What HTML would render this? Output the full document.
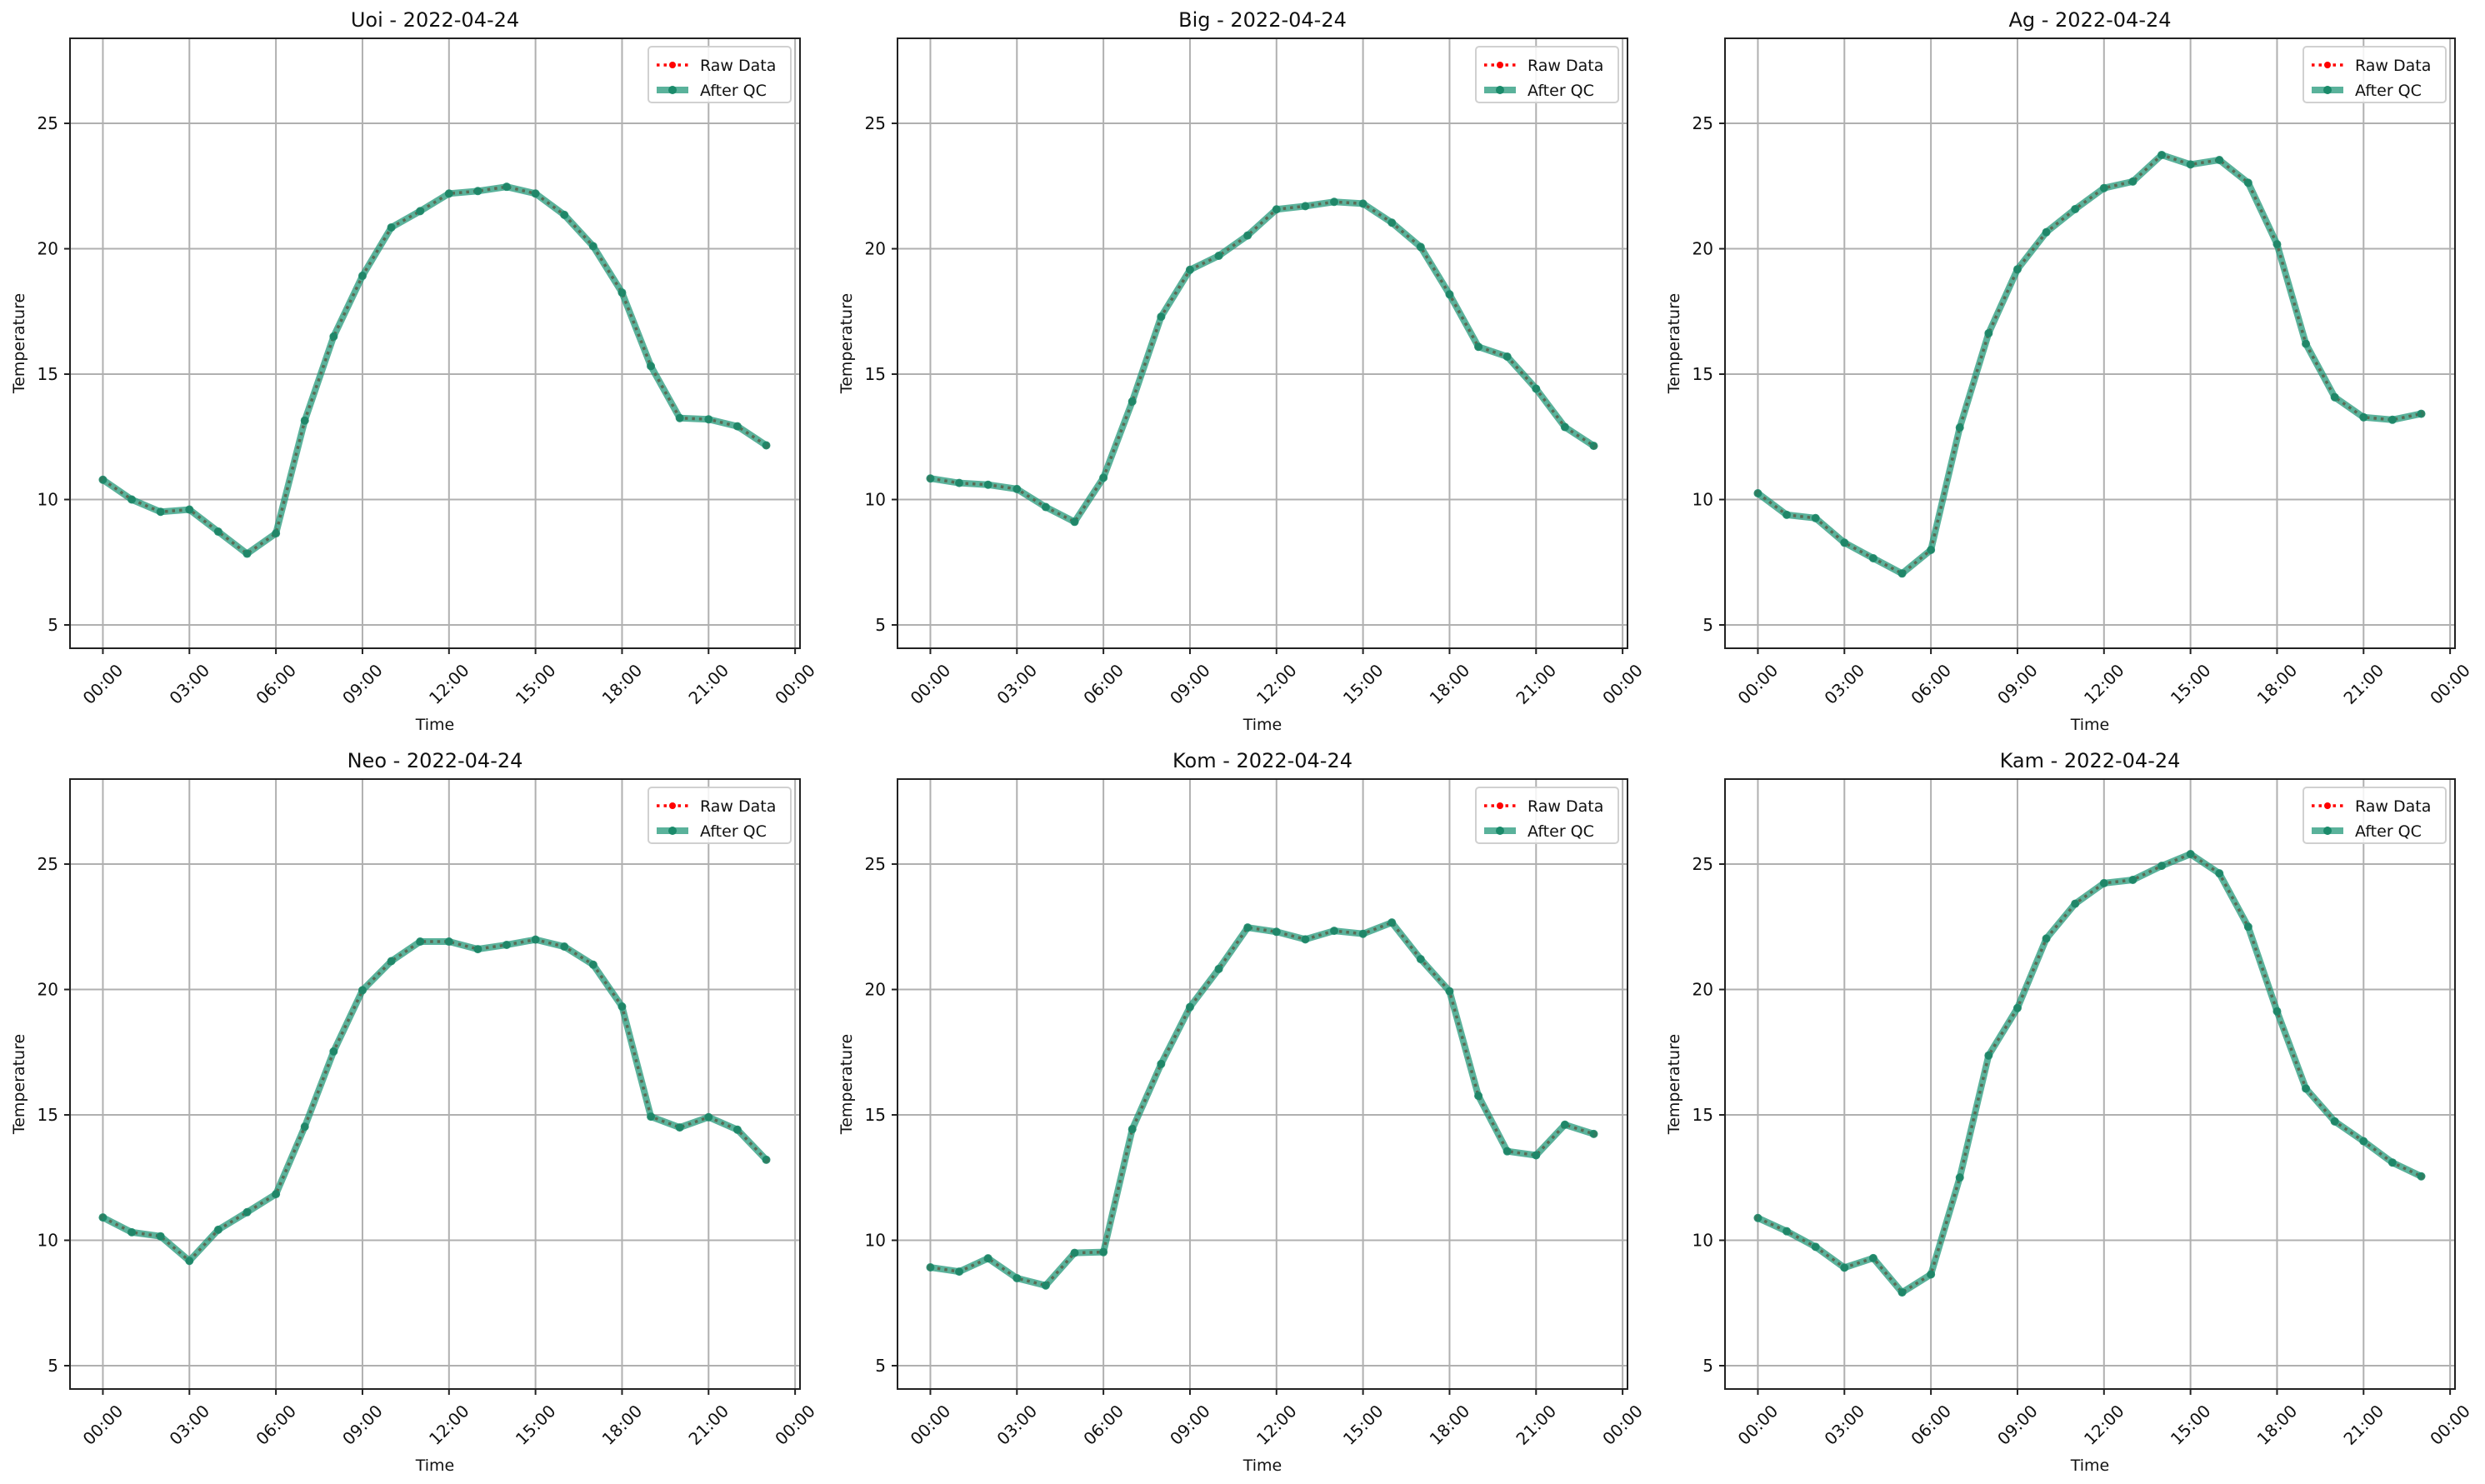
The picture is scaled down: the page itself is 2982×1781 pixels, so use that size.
<!DOCTYPE html>
<html><head><meta charset="utf-8"><style>
html,body{margin:0;padding:0;background:#fff;}
svg{display:block;font-family:"DejaVu Sans","Liberation Sans",sans-serif;}
</style></head><body>
<svg id="fig" width="2982" height="1781" viewBox="0 0 2982 1781" xmlns="http://www.w3.org/2000/svg"></svg>
<script>
const stations = ["Uoi","Big","Ag","Neo","Kom","Kam"];
const dateLabel = "2022-04-24";
const hours = [0,1,2,3,4,5,6,7,8,9,10,11,12,13,14,15,16,17,18,19,20,21,22,23];
const xTickHours = [0,3,6,9,12,15,18,21,24];
const xTickLabels = ["00:00","03:00","06:00","09:00","12:00","15:00","18:00","21:00","00:00"];
const yTicks = [5,10,15,20,25];
const tempUoi = [10.79,10.0,9.51,9.6,8.72,7.84,8.65,13.15,16.5,18.92,20.85,21.5,22.2,22.3,22.47,22.2,21.35,20.1,18.25,15.32,13.25,13.2,12.92,12.16];
const tempBig = [10.84,10.66,10.59,10.42,9.70,9.11,10.87,13.91,17.29,19.16,19.72,20.53,21.57,21.70,21.87,21.80,21.04,20.07,18.18,16.09,15.70,14.42,12.89,12.14];
const tempAg = [10.25,9.39,9.26,8.28,7.66,7.05,7.99,12.87,16.63,19.18,20.66,21.58,22.42,22.68,23.74,23.36,23.54,22.63,20.18,16.21,14.08,13.28,13.18,13.42];
const tempNeo = [10.91,10.32,10.16,9.18,10.42,11.12,11.84,14.53,17.53,19.97,21.13,21.91,21.91,21.61,21.78,21.99,21.71,20.99,19.32,14.93,14.50,14.91,14.41,13.21];
const tempKom = [8.92,8.75,9.28,8.49,8.20,9.50,9.53,14.43,17.03,19.30,20.82,22.47,22.30,22.0,22.34,22.22,22.67,21.21,19.93,15.76,13.55,13.39,14.61,14.24];
const tempKam = [10.89,10.36,9.74,8.91,9.29,7.92,8.64,12.50,17.37,19.26,22.03,23.42,24.24,24.37,24.93,25.4,24.63,22.5,19.13,16.05,14.74,13.95,13.1,12.55];
const series = [tempUoi,tempBig,tempAg,tempNeo,tempKom,tempKam];

const NS = "http://www.w3.org/2000/svg";
const fig = document.getElementById('fig');
function mk(tag, attrs, parent){const e=document.createElementNS(NS,tag);for(const k in attrs)e.setAttribute(k,attrs[k]);parent.appendChild(e);return e;}

const colX=[84,1077,2070], rowY=[46,935], PW=876, PH=732;
const xMin=-1.14, xMax=24.17, yMin=4.07, yMax=28.39;

series.forEach((vals,i)=>{
  const L=colX[i%3], T=rowY[Math.floor(i/3)];
  const sx=h=>L+(h-xMin)/(xMax-xMin)*PW;
  const sy=v=>T+PH-(v-yMin)/(yMax-yMin)*PH;
  const g=mk('g',{},fig);
  
  
  xTickHours.forEach((h,j)=>{
    const gl=mk('line',{x1:sx(h),x2:sx(h),y1:T,y2:T+PH,stroke:'#b0b0b0','stroke-width':2},g);
    
    
    mk('line',{x1:sx(h),x2:sx(h),y1:T+PH,y2:T+PH+7,stroke:'#222','stroke-width':2},g);
    const cx=sx(h), cy=T+PH+43;
    const t=mk('text',{x:cx,y:cy,'text-anchor':'middle','dominant-baseline':'central','font-size':20,fill:'#111',transform:`rotate(-45 ${cx} ${cy})`},g);
    t.textContent=xTickLabels[j];
    
    
  });
  yTicks.forEach(v=>{
    const gl=mk('line',{x1:L,x2:L+PW,y1:sy(v),y2:sy(v),stroke:'#b0b0b0','stroke-width':2},g);
    
    
    mk('line',{x1:L-7,x2:L,y1:sy(v),y2:sy(v),stroke:'#222','stroke-width':2},g);
    const t=mk('text',{x:L-14,y:sy(v)+7,'text-anchor':'end','font-size':20,fill:'#111'},g);
    t.textContent=v;
    
    
  });
  const pts=hours.map((h,k)=>sx(h)+','+sy(vals[k])).join(' ');
  const raw=mk('polyline',{points:pts,fill:'none',stroke:'#ff0000','stroke-width':3.5,'stroke-dasharray':'3.5 5'},g);
  
  
  hours.forEach((h,k)=>{
    const c=mk('circle',{cx:sx(h),cy:sy(vals[k]),r:4,fill:'#ff0000'},g);
    
    
  });
  const qc=mk('polyline',{points:pts,fill:'none',stroke:'#1a9474','stroke-opacity':0.72,'stroke-width':8,'stroke-linejoin':'round'},g);
  
  
  hours.forEach((h,k)=>{
    const c=mk('circle',{cx:sx(h),cy:sy(vals[k]),r:5,fill:'#1a8a6a','fill-opacity':0.9},g);
    
    
  });
  const fr=mk('rect',{x:L,y:T,width:PW,height:PH,fill:'none',stroke:'#222','stroke-width':2},g);
  
  
  const ti=mk('text',{x:L+PW/2,y:T-14,'text-anchor':'middle','font-size':24,fill:'#111'},g);
  ti.textContent=stations[i]+' - '+dateLabel;
  
  
  const xl=mk('text',{x:L+PW/2,y:T+PH+98,'text-anchor':'middle','font-size':19,fill:'#111'},g);
  xl.textContent='Time';
  
  
  const ycx=L-55, ycy=T+PH/2;
  const yl=mk('text',{x:ycx,y:ycy,'text-anchor':'middle','font-size':19,fill:'#111',transform:`rotate(-90 ${ycx} ${ycy})`},g);
  yl.textContent='Temperature';
  
  
  const lg=mk('g',{},g);
  
  
  const lx=L+PW-182, ly=T+10;
  mk('rect',{x:lx,y:ly,width:171,height:67,rx:4,fill:'#fff','fill-opacity':0.85,stroke:'#d0d0d0','stroke-width':2},lg);
  mk('line',{x1:lx+10,x2:lx+48,y1:ly+22,y2:ly+22,stroke:'#ff0000','stroke-width':3.5,'stroke-dasharray':'3.5 5'},lg);
  mk('circle',{cx:lx+29,cy:ly+22,r:4,fill:'#ff0000'},lg);
  const t1=mk('text',{x:lx+62,y:ly+29,'font-size':19,fill:'#111'},lg);
  t1.textContent='Raw Data';
  
  
  mk('line',{x1:lx+10,x2:lx+48,y1:ly+52,y2:ly+52,stroke:'#1a9474','stroke-opacity':0.72,'stroke-width':8},lg);
  mk('circle',{cx:lx+29,cy:ly+52,r:5,fill:'#1a8a6a'},lg);
  const t2=mk('text',{x:lx+62,y:ly+59,'font-size':19,fill:'#111'},lg);
  t2.textContent='After QC';
  
  
});
</script>
</body></html>
